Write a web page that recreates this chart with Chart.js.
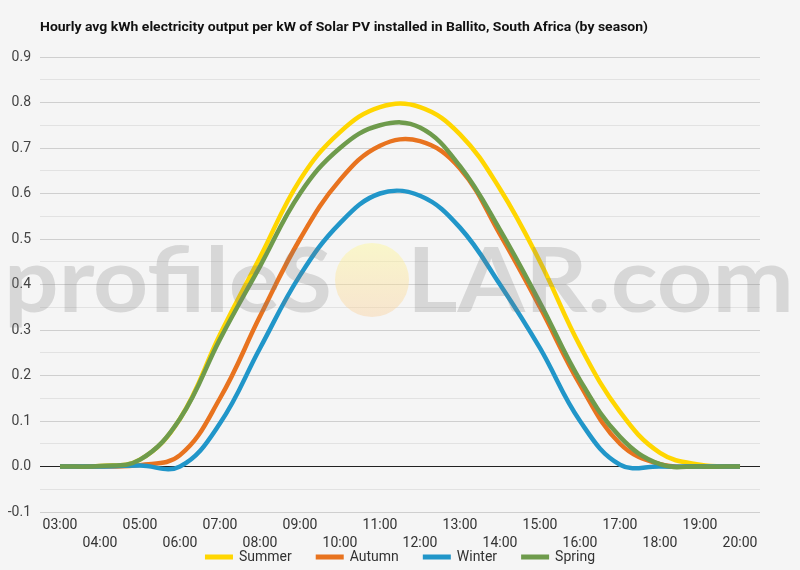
<!DOCTYPE html>
<html>
<head>
<meta charset="utf-8">
<script src="https://cdn.jsdelivr.net/npm/chart.js@4"></script>
<style>
  html, body { margin: 0; padding: 0; background: #f5f5f5; }
  #wrap { width: 800px; height: 570px; }
</style>
</head>
<body>
<div id="wrap"><canvas id="grafica" width="800" height="570"></canvas></div>
<script>
// horas (categorias)
let horas = ['03:00','04:00','05:00','06:00','07:00','08:00','09:00','10:00','11:00','12:00',
             '13:00','14:00','15:00','16:00','17:00','18:00','19:00','20:00']
// kWh por kW, por estacion
let summer = [0, 0.001, 0.015, 0.105, 0.29, 0.46, 0.63, 0.735, 0.79, 0.79, 0.73, 0.61, 0.45, 0.265, 0.12, 0.03, 0.004, 0]
let autumn = [0, 0, 0.003, 0.025, 0.15, 0.33, 0.50, 0.63, 0.705, 0.715, 0.655, 0.51, 0.35, 0.18, 0.05, 0.005, 0, 0]
let winter = [0, 0, 0.002, 0.0, 0.095, 0.26, 0.42, 0.535, 0.60, 0.595, 0.525, 0.40, 0.26, 0.10, 0.004, 0, 0, 0]
let spring = [0, 0.001, 0.015, 0.105, 0.28, 0.44, 0.60, 0.70, 0.75, 0.745, 0.66, 0.52, 0.36, 0.19, 0.065, 0.005, 0, 0]
let titulo = 'Hourly avg kWh electricity output per kW of Solar PV installed in Ballito, South Africa (by season)'

const fondo = {
    id: 'fondo',
    beforeDraw(chart) {
        const c = chart.ctx
        c.save()
        c.fillStyle = '#f5f5f5'
        c.fillRect(0, 0, chart.width, chart.height)
        c.restore()
    }
}

// texto ajustado entre x0 y x1
function textoAjustado(c, txt, x0, x1, y) {
    const w = c.measureText(txt).width
    c.save()
    c.translate(x0, y)
    c.scale((x1 - x0) / w, 1)
    c.fillText(txt, 0, 0)
    c.restore()
}

const extras = {
    id: 'extras',
    afterDatasetsDraw(chart) {
        const c = chart.ctx
        // marca de agua
        c.save()
        c.font = 'bold 90px Lato'
        c.textBaseline = 'alphabetic'
        c.textAlign = 'left'
        c.fillStyle = 'rgba(120,120,120,0.24)'
        textoAjustado(c, 'profileS', 4, 332, 312)
        textoAjustado(c, 'LAR.com', 407, 794, 312)
        const g = c.createLinearGradient(0, 243, 0, 317)
        g.addColorStop(0, 'rgba(255,248,150,0.45)')
        g.addColorStop(1, 'rgba(250,205,150,0.40)')
        c.fillStyle = g
        c.beginPath()
        c.arc(372, 280, 37, 0, Math.PI * 2)
        c.fill()
        c.restore()
    },
    afterDraw(chart) {
        const c = chart.ctx
        c.save()
        // titulo
        c.font = 'bold 13px Roboto'
        c.fillStyle = '#111'
        c.textBaseline = 'middle'
        c.textAlign = 'left'
        const tw = c.measureText(titulo).width
        c.save()
        c.translate(40, 28)
        c.scale(608 / tw, 1)
        c.fillText(titulo, 0, 0)
        c.restore()
        // leyenda
        c.font = '14px Roboto'
        const ds = chart.data.datasets
        let total = 0
        const anchos = ds.map(d => c.measureText(d.label).width)
        anchos.forEach(a => { total += 28 + 6 + a })
        total += 24 * (ds.length - 1)
        let x = 400 - total / 2
        const y = 557
        ds.forEach((d, i) => {
            c.fillStyle = d.borderColor
            c.fillRect(x, y - 2.5, 28, 5)
            c.fillStyle = '#333'
            c.fillText(d.label, x + 34, y)
            x += 34 + anchos[i] + 24
        })
        c.restore()
    }
}

const grafica = document.querySelector('#grafica')
const serie = (label, data, color, orden) => ({
    label: label,
    data: data,
    borderColor: color,
    backgroundColor: color,
    borderWidth: 4.5,
    pointRadius: 0,
    tension: 0.4,
    fill: false,
    order: orden,
})

var myChart = new Chart(grafica, {
    type: 'line',
    data: {
        labels: horas,
        datasets: [
            serie('Summer', summer, '#ffd600', 3),
            serie('Autumn', autumn, '#e8731f', 2),
            serie('Winter', winter, '#2196c9', 1),
            serie('Spring', spring, '#6e9b4c', 0),
        ]
    },
    options: {
        responsive: false,
        animation: false,
        devicePixelRatio: 1,
        layout: { padding: { top: 57, left: 0, right: 40, bottom: 0 } },
        scales: {
            x: {
                offset: true,
                grid: { display: false, drawTicks: false },
                border: { display: false },
                afterFit: (s) => { s.height = 58 },
                ticks: {
                    autoSkip: false,
                    maxRotation: 0,
                    minRotation: 0,
                    padding: 4,
                    color: '#333',
                    font: { family: 'Roboto', size: 14, lineHeight: 1.3 },
                    callback: function(v, i) {
                        const t = this.getLabelForValue(v)
                        return i % 2 === 0 ? t : ['', t]
                    }
                }
            },
            y: {
                min: -0.1,
                max: 0.9,
                afterFit: (s) => { s.width = 40 },
                border: { display: false },
                grid: {
                    drawTicks: false,
                    lineWidth: 1,
                    color: (ctx) => {
                        const k = Math.round(ctx.tick.value * 100)
                        if (k === 0) return '#222'
                        return k % 10 === 0 ? '#cfcfcf' : '#e2e2e2'
                    }
                },
                ticks: {
                    stepSize: 0.05,
                    padding: 9,
                    color: '#444',
                    font: { family: 'Roboto', size: 14 },
                    callback: (v) => {
                        const k = Math.round(v * 100)
                        return k % 10 === 0 ? (k / 100).toFixed(1) : ''
                    }
                }
            }
        },
        plugins: {
            legend: { display: false },
            title: { display: false },
            tooltip: { enabled: false }
        }
    },
    plugins: [fondo, extras]
});
</script>
</body>
</html>
